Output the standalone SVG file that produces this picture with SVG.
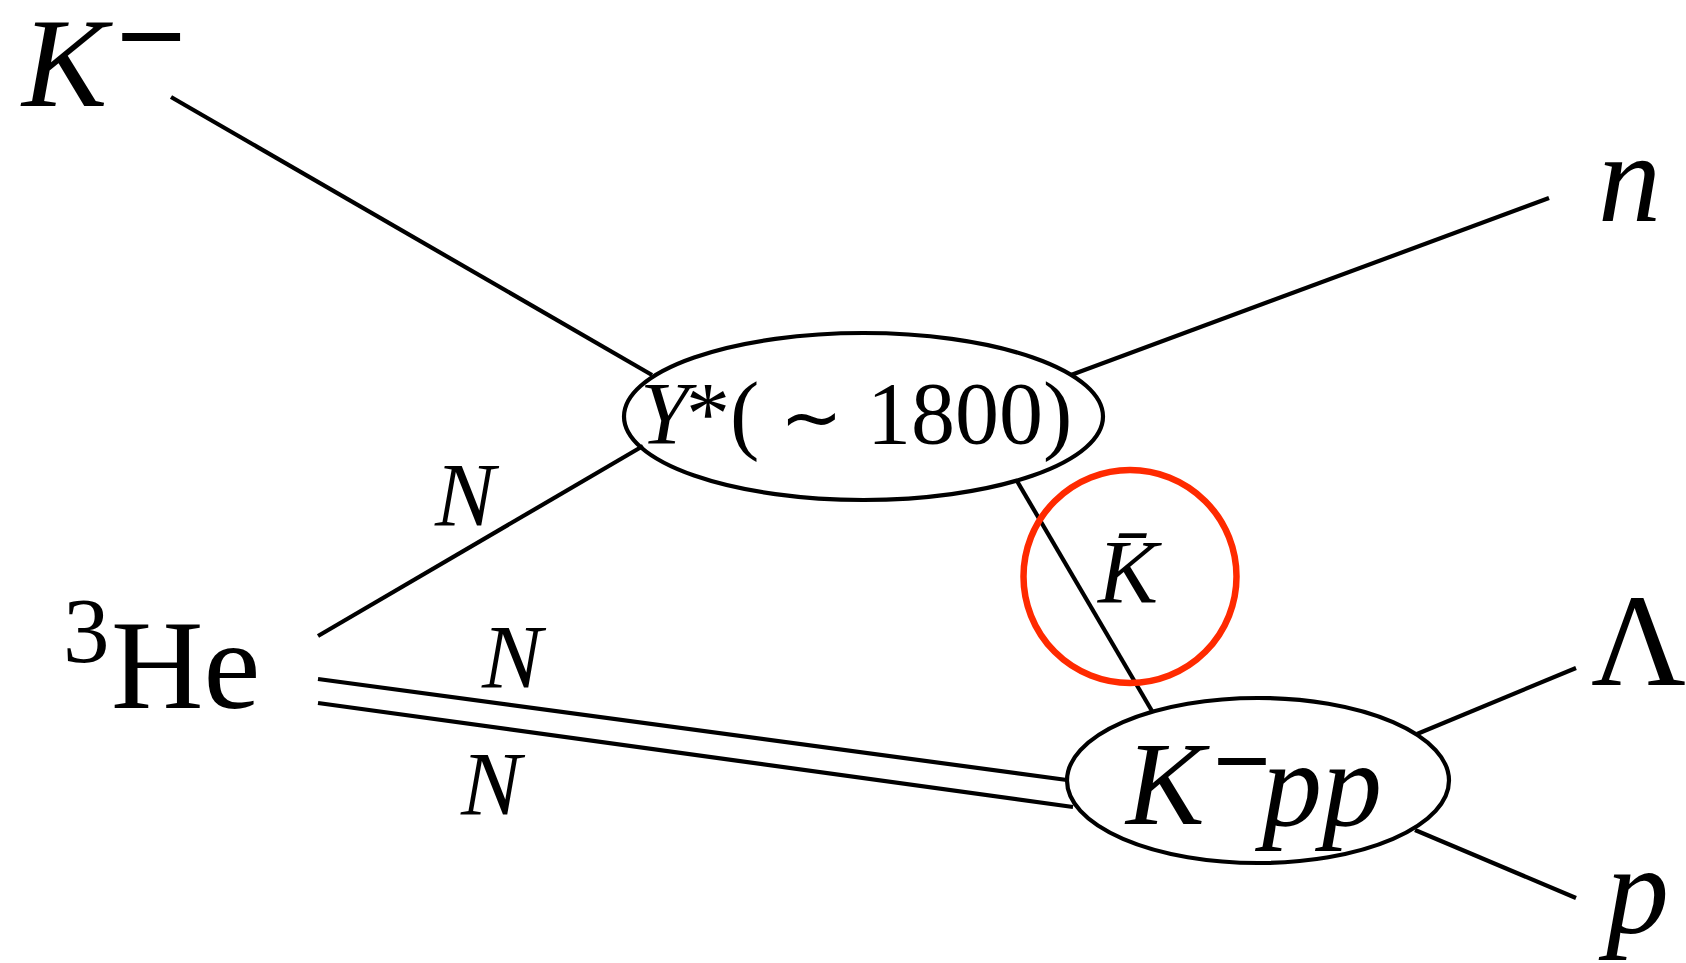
<svg xmlns="http://www.w3.org/2000/svg" width="1686" height="963" viewBox="0 0 1686 963">
<style>
.ln{stroke:#000;stroke-width:4.2;fill:none;stroke-linecap:butt}
.el{stroke:#000;stroke-width:4.2;fill:none}
.t{font-family:"Liberation Serif","Times New Roman",serif;fill:#000}
.i{font-style:italic}
.m{stroke:#000;stroke-width:2;text-anchor:middle}
</style>
<rect width="1686" height="963" fill="#fff"/>
<g id="connectors">
<line class="ln" x1="171" y1="97" x2="652" y2="375"/>
<line class="ln" x1="318" y1="636" x2="643" y2="446"/>
<line class="ln" x1="1071" y1="375" x2="1549" y2="198"/>
<line class="ln" x1="1017" y1="481" x2="1152" y2="711" stroke-width="3.5"/>
<line class="ln" x1="318" y1="679" x2="1067" y2="780"/>
<line class="ln" x1="318" y1="703" x2="1073" y2="807"/>
<line class="ln" x1="1417" y1="734" x2="1576" y2="668"/>
<line class="ln" x1="1415" y1="830" x2="1576" y2="898"/>
</g>
<g id="Kminus">
<text class="t i" x="22" y="106" font-size="128">K</text>
<text class="t m" x="151" y="77" font-size="120">−</text>
</g>
<g id="He3">
<text class="t" x="63" y="662" font-size="93">3</text>
<text class="t" x="111" y="708" font-size="128">He</text>
</g>
<g id="Ystar">
<ellipse class="el" cx="863.5" cy="416.5" rx="239.5" ry="83.5"/>
<text class="t" x="640" y="443" font-size="88"><tspan class="i">Y</tspan><tspan x="686">*(</tspan><tspan x="780" font-size="75">∼</tspan><tspan x="867">1800)</tspan></text>
</g>
<g id="Kpp">
<ellipse class="el" cx="1258" cy="780.5" rx="191" ry="82.5"/>
<text class="t i" x="1126" y="824" font-size="118">K</text>
<text class="t m" x="1242" y="794" font-size="98">−</text>
<text class="t i" x="1262" y="825" font-size="120">pp</text>
</g>
<g id="Kbar">
<circle cx="1130" cy="576.5" r="106.5" fill="none" stroke="#ff2a00" stroke-width="6.5"/>
<text class="t i" x="1098" y="603" font-size="90">K̄</text>
</g>
<g id="n">
<text class="t i" x="1598" y="221" font-size="126">n</text>
</g>
<g id="Lambda">
<text class="t" x="1591" y="685" font-size="131">Λ</text>
</g>
<g id="p">
<text class="t i" x="1606" y="933" font-size="126">p</text>
</g>
<g id="labels">
<text class="t i" x="435" y="526" font-size="90">N</text>
<text class="t i" x="482" y="688" font-size="90">N</text>
<text class="t i" x="461" y="815" font-size="90">N</text>
</g>
</svg>
